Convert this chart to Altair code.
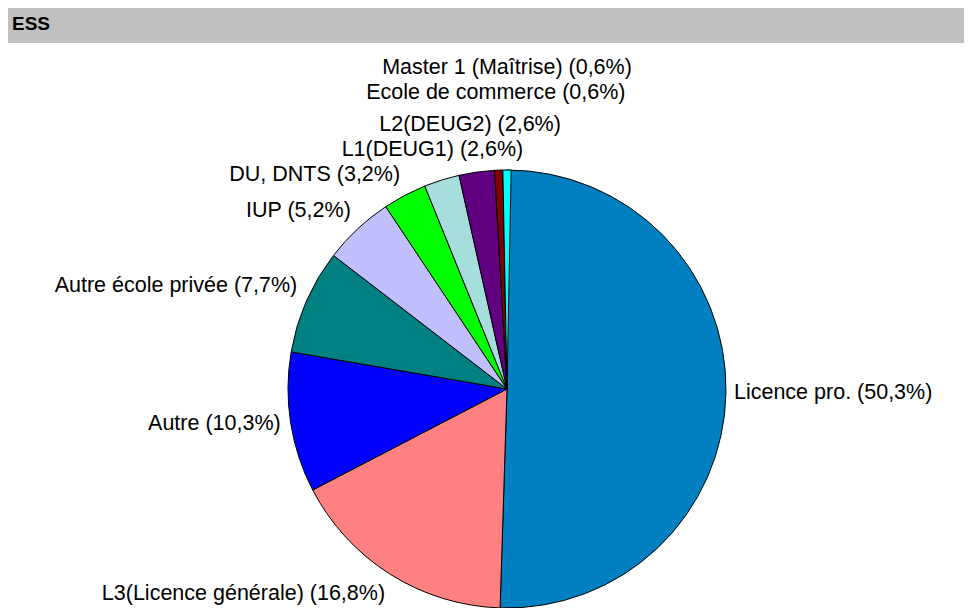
import altair as alt
import pandas as pd

# ---- data ----
title_text = "ESS"
categories = [
    "Licence pro.",
    "L3(Licence générale)",
    "Autre",
    "Autre école privée",
    "IUP",
    "DU, DNTS",
    "L1(DEUG1)",
    "L2(DEUG2)",
    "Ecole de commerce",
    "Master 1 (Maîtrise)",
]
values = [50.3, 16.8, 10.3, 7.7, 5.2, 3.2, 2.6, 2.6, 0.6, 0.6]
colors = ["#0080C0", "#FF8080", "#0000FF", "#008080", "#C0C0FF",
          "#00FF00", "#A6DEDE", "#600080", "#800000", "#00FFFF"]

# ---- layout (styles, not data) ----
W, H = 956, 600
CX, CY = 499, 381          # pie centre inside the canvas
R = 219                    # pie radius
FONT = "Liberation Sans"
FS = 21.5
label_layout = {
    "Licence pro.": (227, "left", "middle"),
    "L3(Licence générale)": (229, "right", "top"),
    "Autre": (229, "right", "middle"),
    "Autre école privée": (229, "right", "bottom"),
    "IUP": (229, "right", "bottom"),
    "DU, DNTS": (229, "right", "bottom"),
    "L1(DEUG1)": (250, "center", "middle"),
    "L2(DEUG2)": (267, "center", "middle"),
    "Ecole de commerce": (296, "center", "middle"),
    "Master 1 (Maîtrise)": (321, "center", "middle"),
}


def fmt(v):
    return f"{v:.1f}".replace(".", ",")


df = pd.DataFrame({
    "cat": categories,
    "value": values,
    "idx": list(range(len(categories))),
    "label": [f"{c} ({fmt(v)}%)" for c, v in zip(categories, values)],
})

base = (
    alt.Chart(df)
    .transform_window(cum="sum(value)", sort=[alt.SortField("idx", order="ascending")],
                      frame=[None, 0])
    .transform_calculate(start="datum.cum - datum.value",
                         mid="datum.cum - datum.value / 2")
)

pie = base.mark_arc(outerRadius=R, stroke="black", strokeWidth=1).encode(
    theta=alt.Theta("start:Q", stack=None),
    theta2="cum:Q",
    color=alt.Color("cat:N", scale=alt.Scale(domain=categories, range=colors), legend=None),
    x=alt.value(CX),
    y=alt.value(CY),
)

label_layers = []
for cat, (rad, align, baseline) in label_layout.items():
    label_layers.append(
        base.transform_filter(alt.datum.cat == cat)
        .mark_text(radius=rad, align=align, baseline=baseline, font=FONT,
                   fontSize=FS, color="black")
        .encode(
            theta=alt.Theta("mid:Q", stack=None),
            text="label:N",
            x=alt.value(CX),
            y=alt.value(CY),
        )
    )

hdr_df = pd.DataFrame({"t": [title_text]})
header = alt.Chart(hdr_df).mark_rect(color="#C0C0C0").encode(
    x=alt.value(0), x2=alt.value(W), y=alt.value(0), y2=alt.value(35)
)
header_text = alt.Chart(hdr_df).mark_text(
    align="left", baseline="middle", font=FONT, fontSize=19, fontWeight="bold",
    color="black"
).encode(x=alt.value(4), y=alt.value(16), text="t:N")

chart = (
    alt.layer(header, header_text, pie, *label_layers)
    .properties(width=W, height=H, autosize="none", padding=0)
    .configure_view(stroke=None)
)

chart.save("out.html", embed_options={"renderer": "svg", "actions": False})
